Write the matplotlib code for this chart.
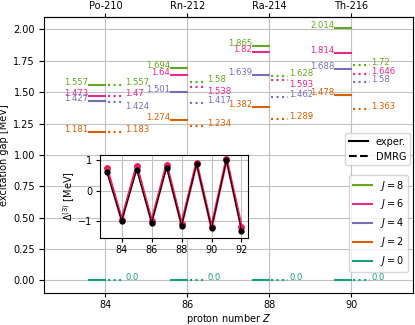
import matplotlib
matplotlib.use("Agg")
import matplotlib.pyplot as plt
from matplotlib.lines import Line2D

plt.rcParams['font.size'] = 7

# nuclei
Z = [84, 86, 88, 90]
nuclei = ["Po-210", "Rn-212", "Ra-214", "Th-216"]

# excitation gaps [MeV], one list per J
J_vals = [8, 6, 4, 2, 0]
exp_gap = {
    8: [1.557, 1.694, 1.865, 2.014],
    6: [1.473, 1.64, 1.82, 1.814],
    4: [1.427, 1.501, 1.639, 1.688],
    2: [1.181, 1.274, 1.382, 1.478],
    0: [0.0, 0.0, 0.0, 0.0],
}
dmrg_gap = {
    8: [1.557, 1.58, 1.628, 1.72],
    6: [1.47, 1.538, 1.593, 1.646],
    4: [1.424, 1.417, 1.462, 1.58],
    2: [1.183, 1.234, 1.289, 1.363],
    0: [0.0, 0.0, 0.0, 0.0],
}

# three-point gap (inset)
Z_inset = [83, 84, 85, 86, 87, 88, 89, 90, 91, 92]
d3_exp = [0.61, -0.98, 0.68, -1.04, 0.76, -1.14, 0.88, -1.23, 1.0, -1.3]
d3_dmrg = [0.76, -0.95, 0.81, -1.0, 0.85, -1.1, 0.91, -1.2, 1.03, -1.18]

colors = {8: "#66a61e", 6: "#e7298a", 4: "#7570b3", 2: "#d95f02", 0: "#1b9e77"}
# DMRG labels that sit below their line to avoid overlap
below = {(84, 4), (86, 6), (88, 6)}

fig = plt.figure(figsize=(4.15, 3.25), dpi=100)
ax = fig.add_axes([0.106, 0.099, 0.889, 0.849])

for J in J_vals:
    c = colors[J]
    for i, z in enumerate(Z):
        e = exp_gap[J][i]
        d = dmrg_gap[J][i]
        ax.plot([z - 0.4, z], [e, e], '-', color=c, lw=1.5, zorder=3)
        ax.plot([z + 0.05, z + 0.45], [d, d], ':', color=c, lw=1.5, zorder=3)
        if J != 0:
            ax.text(z - 0.42, e, str(e), color=c, fontsize=6.1, ha='right', va='baseline')
        va = 'top' if (z, J) in below else 'baseline'
        ax.text(z + 0.48, d, str(d), color=c, fontsize=6.1, ha='left', va=va)

ax.set_xlim(82.5, 91.5)
ax.set_ylim(-0.1, 2.1)
ax.set_xticks(Z)
ax.set_yticks([0, 0.25, 0.5, 0.75, 1.0, 1.25, 1.5, 1.75, 2.0])
ax.tick_params(axis='x', length=3, pad=2.5)
ax.tick_params(axis='y', length=3.5, pad=3)
ax.grid(True, color="#c0c0c0", lw=0.8)
ax.set_axisbelow(True)
ax.set_xlabel("proton number $Z$", labelpad=1)
ax.set_ylabel("excitation gap [MeV]", labelpad=3)

top = ax.secondary_xaxis('top')
top.set_xticks(Z, labels=nuclei)
top.tick_params(length=3, pad=1.5)

# legends
style_handles = [Line2D([], [], color='black', lw=1.5, ls='-'),
                 Line2D([], [], color='black', lw=1.5, ls='--')]
leg1 = ax.legend(style_handles, ["exper.", "DMRG"], loc='upper right',
                 bbox_to_anchor=(0.993, 0.58), borderaxespad=0, fontsize=7)
ax.add_artist(leg1)
J_handles = [Line2D([], [], color=colors[J], lw=1.5) for J in J_vals]
ax.legend(J_handles, [f"$J = {J}$" for J in J_vals], loc='upper right',
          bbox_to_anchor=(0.987, 0.428), borderaxespad=0, fontsize=7)

# inset
ins = fig.add_axes([0.241, 0.269, 0.357, 0.254])
ins.plot(Z_inset, d3_dmrg, 'o-', color="#f0205c", lw=2, ms=4, zorder=2)
ins.plot(Z_inset, d3_exp, 'o-', color='black', lw=0.8, ms=3.5, zorder=3)
ins.set_xticks([84, 86, 88, 90, 92])
ins.set_yticks([-1, 0, 1])
ins.set_ylim(-1.53, 1.17)
ins.tick_params(length=3, pad=2.5)
ins.grid(True, color="#c0c0c0", lw=0.8)
ins.set_ylabel(r"$\Delta^{(3)}$ [MeV]", labelpad=1)

fig.savefig("out.png", dpi=100)
